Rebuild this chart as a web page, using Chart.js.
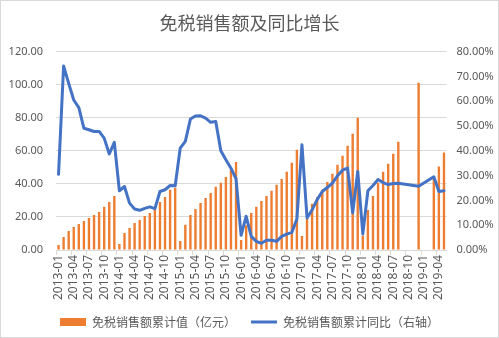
<!DOCTYPE html>
<html><head><meta charset="utf-8">
<script src="https://cdn.jsdelivr.net/npm/chart.js@4"></script>
<style>html,body{margin:0;padding:0;background:#fff}#wrap{width:499px;height:338px}</style>
</head><body><div id="wrap"><canvas id="c" width="499" height="338"></canvas></div>
<script>
const months = [
 '2013-01','2013-02','2013-03','2013-04','2013-05','2013-06','2013-07','2013-08','2013-09','2013-10','2013-11','2013-12',
 '2014-01','2014-02','2014-03','2014-04','2014-05','2014-06','2014-07','2014-08','2014-09','2014-10','2014-11','2014-12',
 '2015-01','2015-02','2015-03','2015-04','2015-05','2015-06','2015-07','2015-08','2015-09','2015-10','2015-11','2015-12',
 '2016-01','2016-02','2016-03','2016-04','2016-05','2016-06','2016-07','2016-08','2016-09','2016-10','2016-11','2016-12',
 '2017-01','2017-02','2017-03','2017-04','2017-05','2017-06','2017-07','2017-08','2017-09','2017-10','2017-11','2017-12',
 '2018-01','2018-02','2018-03','2018-04','2018-05','2018-06','2018-07','2018-08','2018-09','2018-10','2018-11','2018-12',
 '2019-01','2019-02','2019-03','2019-04','2019-05'
];
// 免税销售额累计值（亿元）
const salesCum = [
 3.0, 7.9, 11.5, 13.9, 15.8, 17.6, 19.4, 21.2, 23.0, 26.1, 29.1, 32.7,
 3.6, 10.3, 13.3, 16.4, 18.2, 20.6, 22.4, 24.8, 29.1, 32.1, 36.4, 37.6,
 5.5, 15.2, 21.2, 24.8, 28.5, 31.5, 34.5, 38.2, 40.6, 44.2, 48.5, 53.3,
 6.1, 15.0, 22.4, 26.1, 29.7, 32.7, 35.8, 39.4, 43.0, 47.3, 52.7, 60.6,
 8.5, 19.0, 28.0, 32.1, 36.4, 41.2, 46.1, 51.5, 57.0, 63.0, 70.3, 80.0,
 8.7, 24.2, 32.7, 40.6, 47.3, 52.1, 58.2, 65.4, null, null, null, 101.2,
 null, null, 43.0, 50.5, 59.0
];
// 免税销售额累计同比（%）
const yoyPct = [
 30.5, 74.2, 67.2, 60.5, 57.4, 49.1, 48.5, 47.8, 47.8, 45.1, 38.7, 43.4,
 23.9, 25.6, 18.9, 16.5, 16.0, 16.8, 17.4, 16.7, 23.6, 24.3, 26.0, 25.9,
 41.1, 43.8, 52.8, 54.0, 54.1, 53.2, 51.5, 51.8, 40.0, 36.4, 33.0, 28.7,
 5.9, 13.6, 5.5, 3.5, 2.7, 3.9, 3.9, 3.5, 5.5, 6.4, 7.1, 12.5,
 42.4, 12.9, 16.2, 20.3, 23.6, 25.2, 27.0, 29.9, 32.2, 33.0, 15.0, 31.7,
 6.5, 23.9, 26.0, 28.4, 27.2, 26.4, 26.8, 26.9, null, null, null, 25.7,
 null, null, 29.5, 23.6, 23.9
];
const leftRange = [0, 120, 20];
const rightRange = [0, 80, 10];
const titleText = '免税销售额及同比增长';
const barLabel = '免税销售额累计值（亿元）';
const lineLabel = '免税销售额累计同比（右轴）';

const TXT = '#595959', GRID = '#d9d9d9';
const CJK = "'Noto Sans CJK SC', 'Noto Sans', sans-serif";
const NUM = "'Noto Sans', 'Noto Sans CJK SC', sans-serif";

const borderPlugin = {
  id: 'outerBorder',
  afterDraw(chart) {
    const ctx = chart.ctx;
    ctx.save();
    ctx.strokeStyle = GRID;
    ctx.lineWidth = 1;
    ctx.strokeRect(0.5, 0.5, chart.width - 1, chart.height - 1);
    ctx.restore();
  }
};

new Chart(document.getElementById('c'), {
  type: 'bar',
  data: {
    labels: months,
    datasets: [
      {
        type: 'bar', label: barLabel, data: salesCum, yAxisID: 'y',
        backgroundColor: '#ED7D31', borderWidth: 0, pointStyle: 'rect',
        barPercentage: 0.47, categoryPercentage: 1.0, order: 2
      },
      {
        type: 'line', label: lineLabel, data: yoyPct, yAxisID: 'y1',
        borderColor: '#4472C4', backgroundColor: '#4472C4', borderWidth: 3,
        pointRadius: 0, pointHoverRadius: 0, pointStyle: 'line',
        pointBorderWidth: 3, pointBorderColor: '#4472C4',
        tension: 0, spanGaps: true, borderJoinStyle: 'round', borderCapStyle: 'round',
        order: 1
      }
    ]
  },
  options: {
    responsive: false, animation: false, devicePixelRatio: 1,
    layout: { padding: { left: 0, right: 0, top: 0, bottom: 0 } },
    plugins: {
      title: {
        display: true, text: titleText, color: TXT,
        font: { family: CJK, size: 18, weight: 'normal' },
        padding: { top: 12, bottom: 18 }
      },
      legend: {
        position: 'bottom',
        labels: {
          usePointStyle: true, pointStyleWidth: 26, boxHeight: 8,
          color: TXT, padding: 15,
          font: { family: CJK, size: 12 },
          sort: (a, b) => a.datasetIndex - b.datasetIndex
        }
      },
      tooltip: { enabled: false }
    },
    scales: {
      x: {
        offset: true,
        grid: {
          display: true, drawOnChartArea: false, drawTicks: true, tickLength: 5, offset: true,
          color: (c) => (c.index % 3 === 0 ? GRID : 'rgba(0,0,0,0)')
        },
        border: { display: true, color: GRID },
        ticks: {
          autoSkip: false, maxRotation: 90, minRotation: 90, padding: 0,
          color: TXT, font: { family: NUM, size: 12 },
          callback: (v, i) => (i % 3 === 0 ? months[i] : '')
        },
        afterFit: (s) => { s.height = 51; }
      },
      y: {
        position: 'left', min: leftRange[0], max: leftRange[1],
        grid: { color: GRID, drawTicks: false },
        border: { display: false },
        ticks: {
          stepSize: leftRange[2], padding: 13, color: TXT,
          font: { family: NUM, size: 11 },
          callback: (v) => Number(v).toFixed(2)
        },
        afterFit: (s) => { s.width = 56; }
      },
      y1: {
        position: 'right', min: rightRange[0], max: rightRange[1],
        grid: { drawOnChartArea: false, drawTicks: false },
        border: { display: false },
        ticks: {
          stepSize: rightRange[2], padding: 10, color: TXT,
          font: { family: NUM, size: 11 },
          callback: (v) => Number(v).toFixed(2) + '%'
        },
        afterFit: (s) => { s.width = 52.5; }
      }
    }
  },
  plugins: [borderPlugin]
});
</script>
</body></html>
